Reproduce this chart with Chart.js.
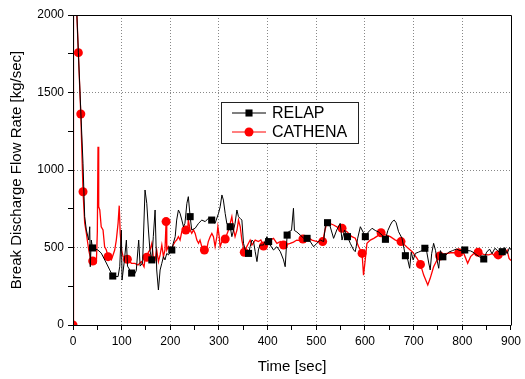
<!DOCTYPE html>
<html>
<head>
<meta charset="UTF-8">
<title>Break Discharge Flow Rate</title>
<script src="https://cdn.jsdelivr.net/npm/chart.js"></script>
<style>
  body { margin: 0; background: #fff; }
</style>
</head>
<body>
<canvas id="chart" width="525" height="379"></canvas>
<script>
// RELAP (black) - time [sec] / flow [kg/sec]
const relapTime = [0, 1, 5, 8, 11, 16, 20.6, 24, 27.4, 32.3, 34.4, 35.5, 37.6, 40, 45, 51, 58, 68.5, 75.5, 81.7,
  92.6, 96, 99.4, 100.8, 105, 109.7, 112, 120.5, 125, 130, 135, 138, 143, 148, 151.6, 155, 158, 162, 165, 168.7,
  172, 175.5, 179, 182.5, 185.8, 189, 192.7, 196, 203, 206, 210, 213, 216.6, 220, 223.6, 227, 230, 234, 237, 240.7,
  244, 251, 258, 264.7, 271.6, 278, 285, 292, 299, 302.4, 306, 309, 312.7, 316, 323, 326.4, 330, 333, 336.8, 340,
  343.6, 347, 350.4, 354, 357, 360.7, 364, 367.6, 371, 374.4, 378, 381, 384, 391.5, 398.5, 402, 405, 412, 419, 426,
  432.6, 436, 440, 443, 449, 453, 455, 460, 467, 474, 481, 487.6, 494.4, 501, 508, 515, 518.4, 523, 528, 535.5,
  542, 549, 552.8, 558, 564, 569.8, 576.7, 580, 585, 590.5, 596, 600.7, 607, 614.5, 621, 628, 635, 642, 647, 652,
  656, 660, 664, 669, 676, 683, 688, 691.8, 695, 699, 703.5, 710, 717, 723, 727, 731, 734, 737, 741, 745,
  748, 751.5, 755, 760, 765, 772, 780, 788, 795, 805, 811, 817, 822, 828, 835, 844, 850, 856, 861, 867,
  873, 878, 882, 887, 892, 897, 900];
const relapFlow = [0, 2300, 2250, 2000, 1760, 1380, 1040, 700, 613, 548, 634, 376, 548, 497, 490, 484, 464, 400, 355, 316,
  312, 376, 613, 290, 400, 548, 380, 335, 320, 350, 548, 380, 400, 871, 785, 613, 484, 420, 570, 742,
  355, 226, 355, 398, 441, 420, 462, 452, 484, 527, 570, 677, 742, 720, 677, 634, 656, 785, 828, 699,
  613, 624, 656, 677, 667, 688, 677, 656, 720, 763, 839, 806, 720, 656, 634, 570, 613, 656, 742, 699,
  688, 677, 527, 484, 462, 462, 505, 548, 538, 473, 409, 484, 516, 516, 570, 538, 516, 484, 505, 473,
  420, 376, 580, 602, 610, 753, 610, 600, 580, 560, 559, 538, 505, 527, 548, 538, 634, 660, 640, 559,
  613, 656, 548, 613, 570, 527, 484, 473, 560, 634, 600, 570, 600, 624, 610, 600, 580, 553, 610, 645,
  667, 677, 660, 602, 560, 447, 420, 366, 470, 420, 462, 470, 480, 495, 470, 400, 355, 460, 527, 480,
  420, 366, 480, 440, 447, 470, 480, 490, 480, 484, 480, 478, 470, 455, 440, 426, 470, 490, 460, 495,
  478, 465, 473, 500, 460, 500, 485];

// CATHENA (red) - time [sec] / flow [kg/sec]
const cathenaTime = [0, 1, 5, 8, 11, 16, 20.6, 24, 27.4, 32.3, 36, 40.5, 45, 48, 50, 51.4, 52.8, 55, 58, 61.7,
  65, 68.5, 72, 78.8, 82.3, 85.7, 89, 92.6, 95, 97, 100, 103, 111.7, 120, 127, 133.7, 140.5, 146, 148, 151.6,
  155, 158.4, 162, 165, 168.7, 172, 175.5, 179, 182.5, 185.8, 189, 191.3, 192.7, 196, 199.5, 203, 206, 209.8, 213, 216.6,
  220, 223.6, 227, 231.8, 236, 237, 240.7, 244, 247.6, 251, 254.5, 258, 261, 264.7, 270, 275, 278, 281.8, 285.3, 288.6,
  292, 295.6, 297.7, 300.4, 302.4, 307, 312.7, 319.5, 323, 326.4, 330, 333, 337, 340, 343.6, 347, 352, 357, 364, 367.6,
  374.4, 381, 386, 391.5, 398.5, 405, 412, 419, 426, 432.6, 440, 446.4, 453, 460, 466, 472.5, 481, 491, 501.6, 513,
  517, 522, 528, 535.5, 544, 552.8, 563, 573, 580, 587, 594, 597, 600.5, 604, 611, 618, 626, 633, 642, 652,
  662.5, 674, 686.5, 697, 707, 714, 720.6, 729, 734, 741, 748, 753.5, 762, 775.6, 792.6, 803, 811, 817, 825, 832.5,
  844, 854, 862, 868, 873.7, 880, 885, 892, 896, 899, 900];
const cathenaFlow = [0, 2300, 2200, 2000, 1757, 1361, 860, 658, 593, 484, 430, 413, 398, 400, 600, 1150, 763, 742, 634, 613,
  505, 484, 441, 420, 452, 484, 548, 656, 770, 591, 480, 441, 424, 398, 398, 387, 409, 376, 430, 437,
  470, 484, 527, 441, 420, 484, 409, 452, 516, 441, 484, 667, 484, 505, 473, 495, 516, 538, 548, 570,
  548, 602, 613, 613, 634, 677, 613, 591, 613, 591, 548, 527, 548, 505, 484, 495, 538, 570, 591, 570,
  505, 570, 634, 570, 505, 548, 555, 613, 656, 699, 613, 570, 613, 677, 634, 548, 469, 505, 548, 516,
  548, 538, 548, 510, 538, 548, 559, 527, 538, 516, 520, 527, 535, 548, 545, 555, 570, 548, 538, 538,
  600, 667, 655, 645, 630, 624, 602, 570, 560, 505, 462, 322, 420, 527, 548, 559, 575, 595, 581, 570,
  548, 538, 501, 473, 430, 391, 322, 258, 301, 376, 419, 445, 458, 466, 466, 462, 398, 441, 465, 469,
  456, 452, 460, 440, 452, 455, 452, 484, 430, 420, 418];

const xTickLabels = [0, 100, 200, 300, 400, 500, 600, 700, 800, 900];
const yTickLabels = [0, 500, 1000, 1500, 2000];

// marker every ~40 s, like the original plot
function markerIndices(times, thresholds) {
  const s = new Set();
  thresholds.forEach(th => {
    const i = times.findIndex(t => t >= th);
    if (i >= 0) s.add(i);
  });
  return s;
}
const relapSteps = [];
for (let t = 40; t <= 900; t += 40) relapSteps.push(t);
const cathenaSteps = [0, 10, 15, 20, 40];
for (let t = 70; t <= 900; t += 40) cathenaSteps.push(t);
const relapMarks = markerIndices(relapTime, relapSteps);
const cathenaMarks = markerIndices(cathenaTime, cathenaSteps);

const fontFamily = "'Liberation Sans', Arial, sans-serif";

const framePlugin = {
  id: 'frame',
  afterDatasetsDraw(chart) {
    const {ctx, chartArea: a} = chart;
    ctx.save();
    ctx.strokeStyle = '#000';
    ctx.lineWidth = 1;
    ctx.beginPath();
    ctx.moveTo(Math.round(a.left) + 0.5, Math.round(a.top) + 0.5);
    ctx.lineTo(Math.round(a.right) + 0.5, Math.round(a.top) + 0.5);
    ctx.lineTo(Math.round(a.right) + 0.5, Math.round(a.bottom) + 0.5);
    ctx.stroke();
    ctx.restore();
  }
};

const legendPlugin = {
  id: 'legendBox',
  afterDraw(chart) {
    const {ctx, chartArea: a} = chart;
    const bx = a.left + 148, by = a.top + 87, bw = 137, bh = 41;
    ctx.save();
    ctx.fillStyle = '#fff';
    ctx.fillRect(bx, by, bw, bh);
    ctx.strokeStyle = '#222';
    ctx.lineWidth = 1;
    ctx.strokeRect(bx + 0.5, by + 0.5, bw, bh);
    chart.data.datasets.forEach((ds, i) => {
      const y = by + 11 + i * 19;
      ctx.strokeStyle = ds.borderColor;
      ctx.lineWidth = 1;
      ctx.beginPath();
      ctx.moveTo(bx + 11, y);
      ctx.lineTo(bx + 45, y);
      ctx.stroke();
      ctx.fillStyle = ds.pointBackgroundColor;
      Chart.helpers.drawPoint(ctx, {pointStyle: ds.pointStyle, radius: ds.legendRadius, rotation: 0, borderWidth: 0}, bx + 28, y);
      ctx.fillStyle = '#000';
      ctx.font = '16px ' + fontFamily;
      ctx.textBaseline = 'middle';
      ctx.fillText(ds.label, bx + 51, y + 1);
    });
    ctx.restore();
  }
};

new Chart(document.getElementById('chart').getContext('2d'), {
  type: 'line',
  data: {
    datasets: [{
      label: 'RELAP',
      data: relapTime.map((t, i) => ({x: t, y: relapFlow[i]})),
      borderColor: '#000',
      borderWidth: 1,
      pointStyle: 'rect',
      pointBackgroundColor: '#000',
      pointBorderWidth: 0,
      pointRadius: c => relapMarks.has(c.dataIndex) ? 5 : 0,
      legendRadius: 5,
      tension: 0
    }, {
      label: 'CATHENA',
      data: cathenaTime.map((t, i) => ({x: t, y: cathenaFlow[i]})),
      borderColor: '#ff0000',
      borderWidth: 1.3,
      pointStyle: 'circle',
      pointBackgroundColor: '#ff0000',
      pointBorderWidth: 0,
      pointRadius: c => cathenaMarks.has(c.dataIndex) ? 4.5 : 0,
      legendRadius: 4.5,
      tension: 0
    }]
  },
  options: {
    responsive: false,
    animation: false,
    layout: { padding: { top: 15, right: 14, left: 0, bottom: 0 } },
    plugins: { legend: { display: false }, tooltip: { enabled: false } },
    elements: { point: { hoverRadius: 0 } },
    scales: {
      x: {
        type: 'linear',
        min: 0, max: 900,
        afterFit: s => { s.height = 54; },
        grid: {
          color: c => (c.tick && xTickLabels.includes(c.tick.value) && c.tick.value !== 0 && c.tick.value !== 900) ? '#888' : 'rgba(0,0,0,0)',
          tickColor: '#000',
          tickLength: 5,
          lineWidth: 1
        },
        border: { display: true, color: '#000', width: 1, dash: [1, 2] },
        ticks: {
          stepSize: 50,
          autoSkip: false,
          maxRotation: 0,
          padding: 4,
          color: '#000',
          font: { family: fontFamily, size: 12 },
          callback: v => xTickLabels.includes(v) ? String(v) : ''
        },
        title: {
          display: true,
          text: 'Time [sec]',
          color: '#000',
          font: { family: fontFamily, size: 15 },
          padding: { top: 0, bottom: 3 }
        }
      },
      y: {
        type: 'linear',
        min: 0, max: 2000,
        afterFit: s => { s.width = 73; },
        grid: {
          color: c => (c.tick && yTickLabels.includes(c.tick.value) && c.tick.value !== 0 && c.tick.value !== 2000) ? '#888' : 'rgba(0,0,0,0)',
          tickColor: '#000',
          tickLength: 5,
          lineWidth: 1
        },
        border: { display: true, color: '#000', width: 1, dash: [1, 2] },
        ticks: {
          stepSize: 250,
          autoSkip: false,
          padding: 4,
          color: '#000',
          font: { family: fontFamily, size: 12 },
          callback: v => yTickLabels.includes(v) ? String(v) : ''
        },
        title: {
          display: true,
          text: 'Break Discharge Flow Rate [kg/sec]',
          color: '#000',
          font: { family: fontFamily, size: 15 },
          padding: { top: 8, bottom: 0 }
        }
      }
    }
  },
  plugins: [framePlugin, legendPlugin]
});
</script>
</body>
</html>
